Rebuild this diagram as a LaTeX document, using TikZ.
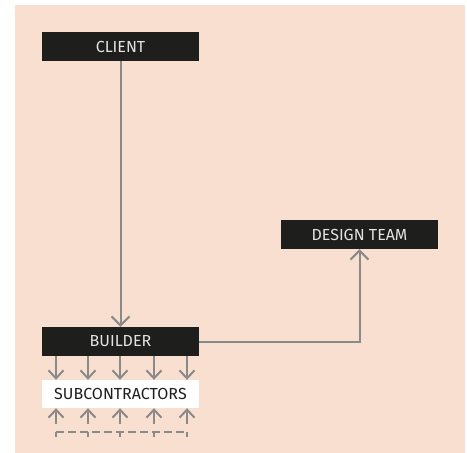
\documentclass[tikz,border=0pt]{standalone}
\usepackage{fontspec}
\setmainfont{Fira Sans}
\usetikzlibrary{arrows.meta}
\definecolor{peach}{HTML}{F9DFCF}
\definecolor{boxdark}{HTML}{1E1E1C}
\definecolor{linegray}{HTML}{8A8A8A}
\definecolor{lighttext}{HTML}{E2E2E2}
\begin{document}
\begin{tikzpicture}[x=1pt,y=-1pt,
  darkbox/.style={fill=boxdark,text=lighttext,minimum width=157pt,minimum height=29pt,
    inner sep=0pt,font=\fontsize{16}{18}\selectfont},
  lightbox/.style={fill=white,text=boxdark,minimum width=157pt,minimum height=28pt,
    inner sep=0pt,font=\fontsize{16}{18}\selectfont},
  wire/.style={draw=linegray,line width=2pt},
  flow/.style={wire,-{Straight Barb[length=9pt,width=18pt,line width=2pt]}},
  subflow/.style={wire,-{Straight Barb[length=8pt,width=15pt,line width=2pt]}},
  loop/.style={wire,dash pattern=on 8pt off 4pt}]
\useasboundingbox (0,0) rectangle (467,453);
\fill[white] (0,0) rectangle (467,453);
\fill[peach] (15,5) rectangle (465,453);

% boxes
\node[darkbox] (client) at (120.5,46.5) {CLIENT};
\node[darkbox] (builder) at (120.5,341.5) {BUILDER};
\node[darkbox] (design) at (359.5,234.5) {DESIGN TEAM};
\node[lightbox] (subs) at (120.5,394) {SUBCONTRACTORS};

% main flows
\draw[flow] (client.south) -- (builder.north);
\draw[flow] (builder.east) -| (design.south);

% builder to subcontractors, and the dashed return loop
\foreach \i/\xx in {1/56,2/88,3/120,4/154,5/187}{
  \coordinate (top\i) at (\xx,356);
  \coordinate (bot\i) at (\xx,432);
  \coordinate (mid\i) at (\xx,424);
  \draw[subflow] (top\i) -- (top\i |- subs.north);
  \draw[subflow] (mid\i) -- (mid\i |- subs.south);
  \draw[wire] ([yshift=-5pt]bot\i) -- (bot\i);
}
\draw[loop] (bot1) -- (bot5);
\end{tikzpicture}
\end{document}
